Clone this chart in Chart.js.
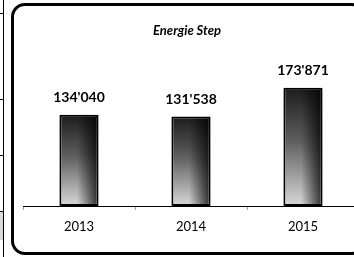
<!DOCTYPE html>
<html>
<head>
<meta charset="utf-8">
<script src="https://cdn.jsdelivr.net/npm/chart.js@4.4.0/dist/chart.umd.min.js"></script>
<style>
html, body { margin: 0; padding: 0; background: #fff; overflow: hidden; }
#wrap { position: relative; width: 354px; height: 257px; overflow: hidden; background: #fff; }
#chart { position: absolute; left: 0; top: 0; }
/* rounded chart frame */
#frame { position: absolute; left: 11px; top: 3px; width: 355px; height: 252px; border: 3px solid #000; border-radius: 14px; box-sizing: border-box; pointer-events: none; }
/* bits of the neighbouring table cut off at the left */
.vline { position: absolute; left: 3px; top: 0; width: 1px; height: 257px; background: #000; }
.hline { position: absolute; left: 0; width: 3px; height: 1px; background: #000; }
.gcell { position: absolute; left: 0; top: 212px; width: 3px; height: 28px; background: #d9d9d9; }
</style>
</head>
<body>
<div id="wrap">
  <div class="gcell"></div>
  <div class="vline"></div>
  <div class="hline" style="top:13px"></div>
  <div class="hline" style="top:99px"></div>
  <div class="hline" style="top:155px"></div>
  <div class="hline" style="top:211px"></div>
  <canvas id="chart" width="362" height="257"></canvas>
  <div id="frame"></div>
</div>
<script>
const TITLE = 'Energie Step';
const years = ['2013', '2014', '2015'];
const values = [134040, 131538, 173871];

function formatSwiss(num) {
    return String(num).replace(/\B(?=(\d{3})+(?!\d))/g, "'");
}

// vertical grey gradient per bar, from the scales
function barFill(ctx) {
    const chart = ctx.chart;
    const y = chart.scales.y;
    if (!y) return '#555';
    const top = y.getPixelForValue(values[ctx.dataIndex]);
    const base = y.getPixelForValue(0);
    if (!isFinite(top) || !isFinite(base)) return '#555';
    const g = chart.ctx.createLinearGradient(0, top, 0, base);
    g.addColorStop(0, '#1c1c1c');
    g.addColorStop(0.45, '#5e5e5e');
    g.addColorStop(1, '#d8d8d8');
    return g;
}

const decorPlugin = {
    id: 'decor',
    afterDatasetsDraw(chart) {
        const c = chart.ctx;
        const meta = chart.getDatasetMeta(0);
        c.save();
        // darker band on the right side of each bar
        meta.data.forEach(bar => {
            const w = bar.width;
            const x0 = bar.x - w / 2;
            const g = c.createLinearGradient(x0 + w * 0.45, 0, x0 + w, 0);
            g.addColorStop(0, 'rgba(0,0,0,0)');
            g.addColorStop(1, 'rgba(0,0,0,0.8)');
            c.fillStyle = g;
            c.fillRect(x0 + 2, bar.y + 2, w - 4, bar.base - bar.y - 4);
        });
        // value labels
        c.fillStyle = '#000';
        c.font = 'bold 14px Lato';
        c.textAlign = 'center';
        c.textBaseline = 'middle';
        meta.data.forEach((bar, i) => {
            c.fillText(formatSwiss(values[i]), bar.x, bar.y - 17);
        });
        // title
        c.font = 'italic bold 13px Lato';
        c.fillText(TITLE, 187, 31);
        c.restore();
    }
};

new Chart(document.getElementById('chart'), {
    type: 'bar',
    data: {
        labels: years,
        datasets: [{
            data: values,
            backgroundColor: barFill,
            borderColor: '#000',
            borderWidth: 2,
            borderSkipped: false,
            barPercentage: 0.35,
            categoryPercentage: 1
        }]
    },
    options: {
        responsive: false,
        animation: false,
        devicePixelRatio: 1,
        layout: { padding: { left: 23, right: 3, top: 70, bottom: 0 } },
        plugins: {
            legend: { display: false },
            title: { display: false },
            tooltip: { enabled: false }
        },
        scales: {
            y: { display: false, min: 0, max: 200000 },
            x: {
                afterFit(scale) { scale.height = 51; },
                grid: { display: true, drawOnChartArea: false, tickLength: 4, color: '#a0a0a0', offset: true },
                border: { display: true, color: '#000', width: 1 },
                ticks: { color: '#000', font: { family: 'Lato', size: 13 }, padding: 9 }
            }
        }
    },
    plugins: [decorPlugin]
});
</script>
</body>
</html>
